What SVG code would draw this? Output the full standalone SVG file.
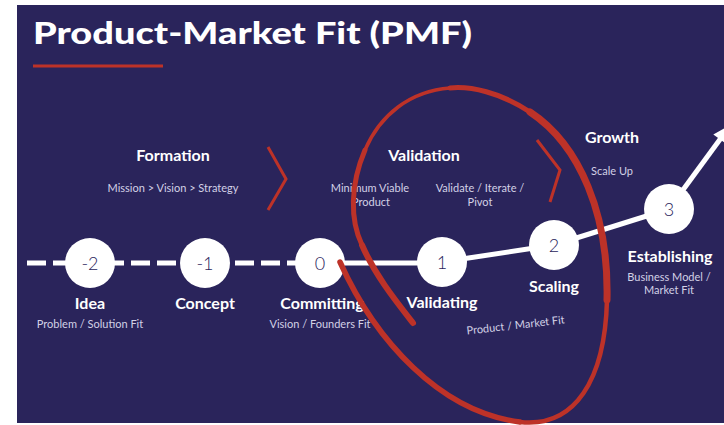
<svg xmlns="http://www.w3.org/2000/svg" width="724" height="425" viewBox="0 0 724 425">
<style>
.h{font-family:Lato,"Noto Sans",sans-serif;font-weight:700;fill:#ffffff;text-anchor:middle;font-size:16px}
.s{font-family:Lato,"Noto Sans",sans-serif;font-weight:400;fill:#d3d1e6;text-anchor:middle;font-size:11px}
.n{font-family:Lato,"Noto Sans",sans-serif;font-weight:300;fill:#2a245b;text-anchor:middle;font-size:18px}
.c{fill:#ffffff}
.red{fill:none;stroke:#bd3228;stroke-linecap:round;stroke-linejoin:round}
</style>
<rect width="724" height="425" fill="#ffffff"/>
<rect x="17" y="5" width="707" height="418" fill="#2a245b"/>
<text x="33" y="44" font-family="Lato,'Noto Sans',sans-serif" font-weight="900" font-size="30" fill="#ffffff" textLength="439" lengthAdjust="spacingAndGlyphs">Product-Market Fit (PMF)</text>
<rect x="33" y="64.5" width="130" height="3" fill="#bd3228"/>

<g id="connectors">
<line x1="27" y1="263" x2="298" y2="263" stroke="#ffffff" stroke-width="5" stroke-dasharray="19 7"/>
<line x1="320" y1="263" x2="442" y2="263" stroke="#ffffff" stroke-width="5"/>
<line x1="442" y1="262" x2="554" y2="245" stroke="#ffffff" stroke-width="5"/>
<line x1="554" y1="245" x2="669" y2="209" stroke="#ffffff" stroke-width="5"/>
<line x1="669" y1="209" x2="721" y2="138" stroke="#ffffff" stroke-width="5"/>
<polygon points="730,125 726.3,144 713.3,134.6" fill="#ffffff"/>
</g>

<g id="phase-formation">
<text class="h" x="173" y="161">Formation</text>
<text class="s" x="173" y="192">Mission &gt; Vision &gt; Strategy</text>
</g>
<g id="phase-validation">
<text class="h" x="424" y="161">Validation</text>
<text class="s" x="370" y="192">Minimum Viable</text>
<text class="s" x="371" y="206">Product</text>
<text class="s" x="480" y="192">Validate / Iterate /</text>
<text class="s" x="480" y="206">Pivot</text>
</g>
<g id="phase-growth">
<text class="h" x="612" y="143">Growth</text>
<text class="s" x="612" y="175">Scale Up</text>
</g>

<g id="node-m2">
<circle class="c" cx="90" cy="263" r="25"/>
<text class="n" x="90" y="269.5">-2</text>
<text class="h" x="90" y="309">Idea</text>
<text class="s" x="90" y="328">Problem / Solution Fit</text>
</g>
<g id="node-m1">
<circle class="c" cx="205" cy="263" r="25"/>
<text class="n" x="205" y="269.5">-1</text>
<text class="h" x="205" y="309">Concept</text>
</g>
<g id="node-0">
<circle class="c" cx="320" cy="263" r="25"/>
<text class="n" x="320" y="269.5">0</text>
<text class="h" x="322" y="309">Committing</text>
<text class="s" x="320" y="328">Vision / Founders Fit</text>
</g>
<g id="node-1">
<circle class="c" cx="442" cy="262" r="25"/>
<text class="n" x="442" y="268.5">1</text>
<text class="h" x="442" y="308">Validating</text>
<text class="s" x="0" y="0" transform="translate(516 329) rotate(-6.5)">Product / Market Fit</text>
</g>
<g id="node-2">
<circle class="c" cx="554" cy="245" r="25"/>
<text class="n" x="554" y="251.5">2</text>
<text class="h" x="554" y="292">Scaling</text>
</g>
<g id="node-3">
<circle class="c" cx="669" cy="209" r="25"/>
<text class="n" x="669" y="215.5">3</text>
<text class="h" x="670" y="262">Establishing</text>
<text class="s" x="669" y="281">Business Model /</text>
<text class="s" x="669" y="294">Market Fit</text>
</g>

<g id="annotations">
<polyline class="red" points="268,147 286,179 268,210" stroke-width="3" style="stroke-linecap:butt;stroke-linejoin:miter"/>
<polyline class="red" points="537,140 560,170 550,202" stroke-width="3" style="stroke-linecap:butt;stroke-linejoin:miter"/>
<path class="red" stroke-width="5.5" d="M340,262 C375,340 440,412 520,422"/>
<path class="red" stroke-width="4.5" d="M520,422 C575,428 605,380 607,300"/>
<path class="red" stroke-width="7" d="M607,300 C609,215 580,145 530,112"/>
<path class="red" stroke-width="5" d="M530,112 C500,92 470,86 450,88"/>
<path class="red" stroke-width="3.5" d="M450,88 C410,91 380,115 365,150"/>
<path class="red" stroke-width="5" d="M365,150 C350,185 350,220 362,245"/>
<path class="red" stroke-width="6" d="M362,245 C375,275 395,300 413,323"/>
</g>
</svg>
